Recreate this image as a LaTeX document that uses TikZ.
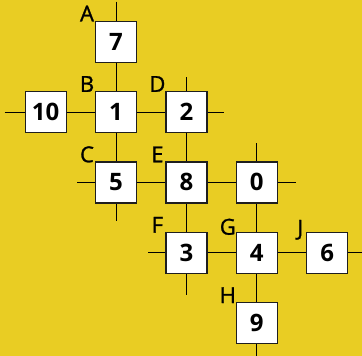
\documentclass[tikz,border=0pt]{standalone}
\usepackage{fontspec}
\setmainfont{Open Sans}
\newfontfamily\tagfont{Open Sans}[FakeBold=1.2]
\usetikzlibrary{positioning}
\definecolor{Mustard}{HTML}{E9CD23}
\definecolor{Ink}{HTML}{1E1E1E}

\begin{document}
\begin{tikzpicture}[node distance=28.2pt and 28.2pt,
 cell/.style={draw=Ink,line width=1.2pt,fill=white,minimum size=41pt,inner sep=0pt,
   font=\fontsize{24}{24}\selectfont\bfseries},
 tag/.style={inner sep=0pt,font=\tagfont\fontsize{22}{22}\selectfont},
 wire/.style={draw=black,line width=0.8pt}]
\fill[Mustard] (0,0) rectangle (362pt,-356pt);
\useasboundingbox (0,0) rectangle (362pt,-356pt);
\node[cell] (one) at (116pt,-112pt) {1};
\node[cell,above=of one] (seven) {7};
\node[cell,left=of one] (ten) {10};
\node[cell,right=of one] (two) {2};
\node[cell,below=of one] (five) {5};
\node[cell,below=of two] (eight) {8};
\node[cell,right=of eight] (zero) {0};
\node[cell,below=of eight] (three) {3};
\node[cell,right=of three] (four) {4};
\node[cell,right=of four] (six) {6};
\node[cell,below=of four] (nine) {9};
% letters
\node[tag] (tA) at ([shift={(-29pt,28pt)}]seven.center) {A};
\node[tag] (tB) at ([shift={(-29pt,28pt)}]one.center) {B};
\node[tag] (tD) at ([shift={(-29pt,28pt)}]two.center) {D};
\node[tag] (tC) at ([shift={(-29pt,28pt)}]five.center) {C};
\node[tag] (tE) at ([shift={(-29pt,28pt)}]eight.center) {E};
\node[tag] (tF) at ([shift={(-29pt,28pt)}]three.center) {F};
\node[tag] (tG) at ([shift={(-29pt,26pt)}]four.center) {G};
\node[tag] (tJ) at ([shift={(-27pt,23pt)}]six.center) {J};
\node[tag] (tH) at ([shift={(-29pt,28pt)}]nine.center) {H};
% loose ends
\coordinate (endA) at ([yshift=40pt]seven.center);
\coordinate (endW) at ([xshift=-41pt]ten.center);
\coordinate (endD) at ([xshift=38pt]two.center);
\coordinate (endN) at ([yshift=35pt]two.center);
\coordinate (endC) at ([yshift=-39pt]five.center);
\coordinate (endL) at ([xshift=-39pt]five.center);
\coordinate (endR) at ([xshift=39pt]zero.center);
\coordinate (endT) at ([yshift=39pt]zero.center);
\coordinate (endF) at ([xshift=-38pt]three.center);
\coordinate (endS) at ([yshift=-42pt]three.center);
\coordinate (endJ) at ([xshift=40pt]six.center);
\coordinate (endH) at ([yshift=-40pt]nine.center);
\draw[wire] (endA)--(seven);\draw[wire] (seven)--(one);\draw[wire] (one)--(five);\draw[wire] (five)--(endC);
\draw[wire] (endW)--(ten);\draw[wire] (ten)--(one);\draw[wire] (one)--(two);\draw[wire] (two)--(endD);
\draw[wire] (endN)--(two);\draw[wire] (two)--(eight);\draw[wire] (eight)--(three);\draw[wire] (three)--(endS);
\draw[wire] (endL)--(five);\draw[wire] (five)--(eight);\draw[wire] (eight)--(zero);\draw[wire] (zero)--(endR);
\draw[wire] (endT)--(zero);\draw[wire] (zero)--(four);\draw[wire] (four)--(nine);\draw[wire] (nine)--(endH);
\draw[wire] (endF)--(three);\draw[wire] (three)--(four);\draw[wire] (four)--(six);\draw[wire] (six)--(endJ);
\end{tikzpicture}
\end{document}
